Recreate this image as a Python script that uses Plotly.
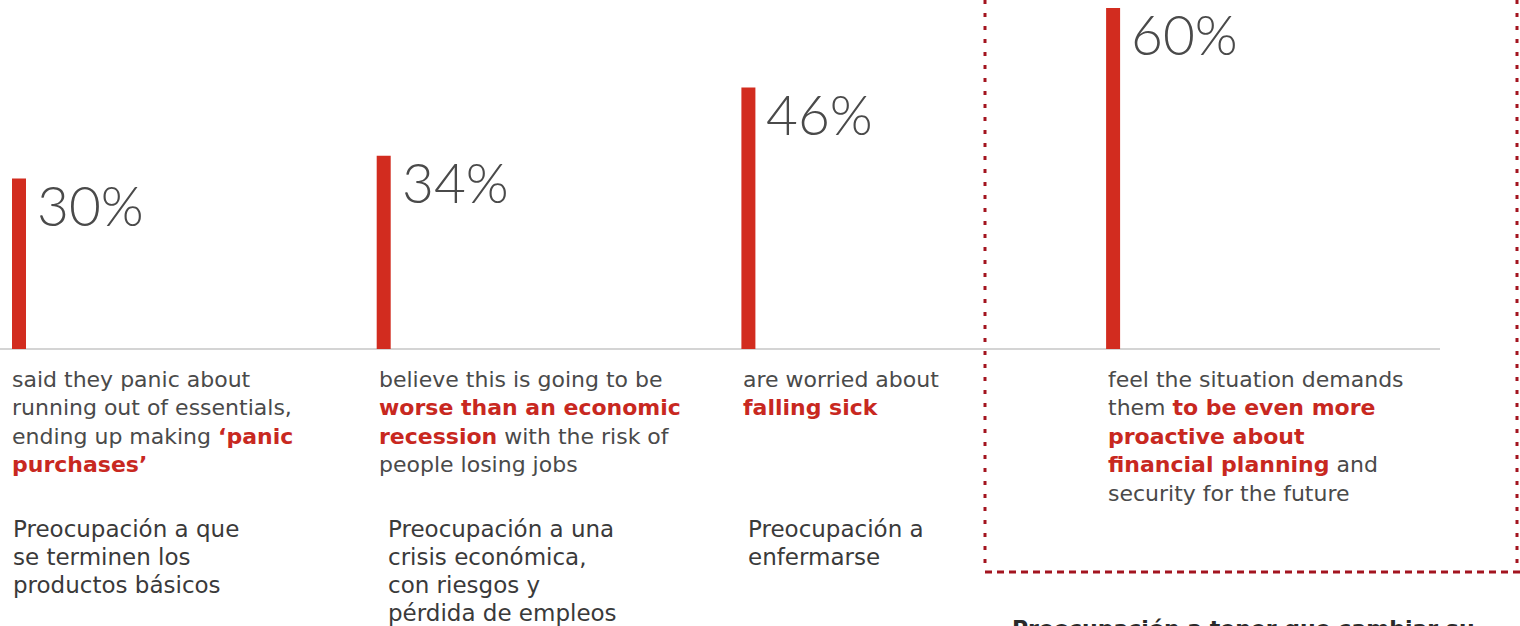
import plotly.graph_objects as go

W, H = 1520, 626

# ---- data ----
values = [30, 34, 46, 60]
value_labels = ["30%", "34%", "46%", "60%"]
desc_lines = [
    ["said they panic about",
     "running out of essentials,",
     "ending up making <b><span style='color:#c8281f'>\u2018panic</span></b>",
     "<b><span style='color:#c8281f'>purchases\u2019</span></b>"],
    ["believe this is going to be",
     "<b><span style='color:#c8281f'>worse than an economic</span></b>",
     "<b><span style='color:#c8281f'>recession</span></b> with the risk of",
     "people losing jobs"],
    ["are worried about",
     "<b><span style='color:#c8281f'>falling sick</span></b>"],
    ["feel the situation demands",
     "them <b><span style='color:#c8281f'>to be even more</span></b>",
     "<b><span style='color:#c8281f'>proactive about</span></b>",
     "<b><span style='color:#c8281f'>financial planning</span></b> and",
     "security for the future"],
]
spanish_lines = [
    ["Preocupación a que", "se terminen los", "productos básicos"],
    ["Preocupación a una", "crisis económica,", "con riesgos y", "pérdida de empleos"],
    ["Preocupación a", "enfermarse"],
]
spanish_bold = "Preocupación a tener que cambiar su"

idx = list(range(len(values)))

# axis geometry (pixel mapping)
x0_px, step_px = 19, 364.7
xr = [-x0_px / step_px, (W - x0_px) / step_px]
base_px, ppu = 349, 5.6833
yr = [-(H - base_px) / ppu, base_px / ppu]

def py(p):
    return 1 - p / H

def px(p):
    return p / W

fig = go.Figure()
fig.add_trace(go.Bar(
    x=idx, y=values, width=14 / step_px,
    marker=dict(color="#d22c1f", line=dict(width=0)),
    hoverinfo="skip",
))

ann = []
for i, (v, lab) in enumerate(zip(values, value_labels)):
    ann.append(dict(x=i, y=v, xref="x", yref="y", text=lab, showarrow=False,
                    xanchor="left", yanchor="top", xshift=17, yshift=8, borderpad=0,
                    font=dict(family="Lato", size=55, color="#4a4a4a", weight=300)))

desc_left = [10, 377, 741, 1106]
for c, lines in enumerate(desc_lines):
    for j, t in enumerate(lines):
        ann.append(dict(x=px(desc_left[c]), y=py(379 + j * 28.6), xref="paper", yref="paper",
                        text=t, showarrow=False, xanchor="left", yanchor="middle",
                        font=dict(family="DejaVu Sans", size=22, color="#4a4a4a")))

sp_left = [11, 386, 746]
for c, lines in enumerate(spanish_lines):
    for j, t in enumerate(lines):
        ann.append(dict(x=px(sp_left[c]), y=py(529 + j * 28), xref="paper", yref="paper",
                        text=t, showarrow=False, xanchor="left", yanchor="middle",
                        font=dict(family="DejaVu Sans", size=23, color="#3a3a3a")))

ann.append(dict(x=px(1010), y=py(629), xref="paper", yref="paper",
                text="<b>" + spanish_bold + "</b>", showarrow=False,
                xanchor="left", yanchor="middle",
                font=dict(family="DejaVu Sans", size=22, color="#2a2a2a")))

shapes = [
    dict(type="line", xref="paper", yref="y", x0=0, x1=px(1440), y0=0, y1=0,
         line=dict(color="#d4d4d4", width=2), layer="below"),
    dict(type="line", xref="paper", yref="paper", x0=px(985), x1=px(985), y0=py(0), y1=py(572),
         line=dict(color="#a3141f", width=3, dash="4px,9px")),
    dict(type="line", xref="paper", yref="paper", x0=px(1517), x1=px(1517), y0=py(0), y1=py(572),
         line=dict(color="#a3141f", width=3, dash="4px,9px")),
    dict(type="line", xref="paper", yref="paper", x0=px(985), x1=px(1520), y0=py(572), y1=py(572),
         line=dict(color="#a3141f", width=3, dash="7px,5px")),
]

fig.update_layout(
    width=W, height=H, margin=dict(l=0, r=0, t=0, b=0),
    paper_bgcolor="white", plot_bgcolor="white",
    showlegend=False, annotations=ann, shapes=shapes,
    xaxis=dict(range=xr, visible=False, fixedrange=True),
    yaxis=dict(range=yr, visible=False, fixedrange=True),
)
fig.write_html("out.html", config={"displayModeBar": False})
